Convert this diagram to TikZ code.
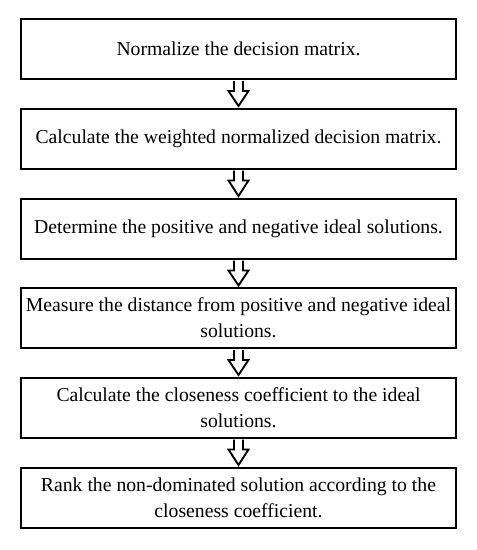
\documentclass[tikz,border=0pt]{standalone}
\usepackage{fontspec}
\setmainfont{Liberation Serif}
\usetikzlibrary{calc}
\begin{document}
\begin{tikzpicture}[x=1pt,y=-1pt,
  stepbox/.style={draw=black,line width=2pt,fill=white,minimum width=435pt,minimum height=60pt,
    text width=433pt,align=flush center,inner xsep=1pt,inner ysep=0pt,
    font=\fontsize{19.7}{26}\selectfont},
  hollowarrow/.style={draw=black,fill=white,line width=1.9pt,line join=miter}]
\useasboundingbox (0,0) rectangle (477,550);
\node[stepbox] (s1) at (238.5,49) {Normalize the decision matrix.};
\node[stepbox] (s2) at (238.5,138.5) {Calculate the weighted normalized decision matrix.};
\node[stepbox] (s3) at (238.5,228.5) {Determine the positive and negative ideal solutions.};
\node[stepbox] (s4) at (238.5,318) {Measure the distance from positive and negative ideal solutions.};
\node[stepbox] (s5) at (238.5,407.5) {Calculate the closeness coefficient to the ideal solutions.};
\node[stepbox] (s6) at (238.5,497.5) {Rank the non-dominated solution according to the closeness coefficient.};
\foreach \a/\b in {s1/s2,s2/s3,s3/s4,s4/s5,s5/s6}{
  \draw[hollowarrow] ($(\a.south)+(-4.5,1)$) -- ($(\a.south)+(-4.5,11)$) -- ($(\a.south)+(-10,11)$)
    -- ($(\b.north)+(0,-1.5)$) -- ($(\a.south)+(10,11)$) -- ($(\a.south)+(4.5,11)$) -- ($(\a.south)+(4.5,1)$);
}
\end{tikzpicture}
\end{document}
